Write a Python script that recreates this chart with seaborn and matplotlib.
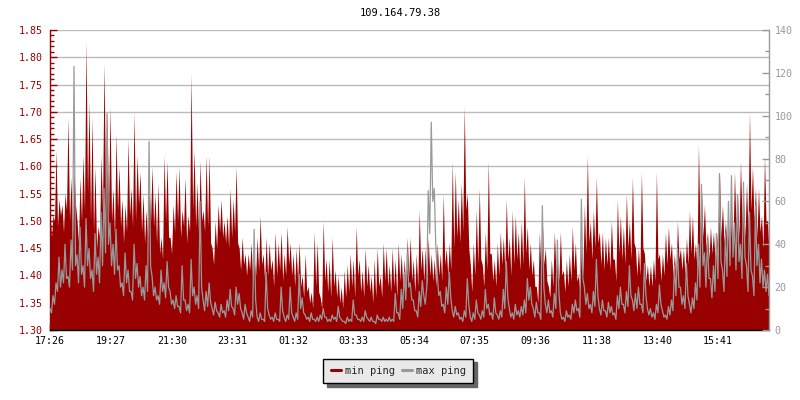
import numpy as np
import pandas as pd
import matplotlib
matplotlib.use("Agg")
import matplotlib.pyplot as plt
import matplotlib.dates as mdates
from matplotlib.lines import Line2D
from matplotlib.ticker import FormatStrFormatter, MultipleLocator
import seaborn as sns

# --- data ---
# samples alternate peak / trough, every 3 minutes starting 17:26
title = "109.164.79.38"
start_time = "2024-01-01 17:26"
step_minutes = 3
tick_labels = ["17:26", "19:27", "21:30", "23:31", "01:32", "03:33",
               "05:34", "07:35", "09:36", "11:38", "13:40", "15:41"]

min_ping_peaks = [
    1.52, 1.51, 1.63, 1.54, 1.53, 1.55, 1.69, 1.58, 1.59, 1.50, 1.58, 1.62, 1.83, 1.72, 1.69, 1.60, 1.49, 1.62, 1.79, 1.70,
    1.71, 1.56, 1.66, 1.60, 1.54, 1.53, 1.65, 1.56, 1.70, 1.62, 1.59, 1.55, 1.52, 1.57, 1.60, 1.55, 1.57, 1.47, 1.62, 1.61,
    1.47, 1.53, 1.59, 1.60, 1.52, 1.58, 1.51, 1.77, 1.63, 1.57, 1.61, 1.52, 1.62, 1.62, 1.45, 1.50, 1.53, 1.54, 1.50, 1.51,
    1.56, 1.54, 1.60, 1.45, 1.47, 1.44, 1.44, 1.46, 1.43, 1.47, 1.51, 1.44, 1.47, 1.46, 1.43, 1.48, 1.46, 1.48, 1.44, 1.49,
    1.46, 1.44, 1.45, 1.46, 1.40, 1.44, 1.38, 1.37, 1.48, 1.46, 1.36, 1.50, 1.43, 1.43, 1.47, 1.41, 1.40, 1.38, 1.41, 1.42,
    1.44, 1.43, 1.49, 1.43, 1.41, 1.45, 1.42, 1.40, 1.43, 1.45, 1.40, 1.46, 1.45, 1.42, 1.45, 1.43, 1.46, 1.44, 1.43, 1.47,
    1.47, 1.43, 1.44, 1.52, 1.45, 1.45, 1.47, 1.44, 1.43, 1.46, 1.44, 1.55, 1.45, 1.46, 1.61, 1.59, 1.54, 1.57, 1.71, 1.55,
    1.42, 1.46, 1.52, 1.56, 1.42, 1.48, 1.61, 1.44, 1.43, 1.46, 1.48, 1.47, 1.54, 1.47, 1.52, 1.51, 1.48, 1.50, 1.58, 1.49,
    1.46, 1.43, 1.38, 1.48, 1.50, 1.45, 1.38, 1.43, 1.48, 1.43, 1.48, 1.41, 1.43, 1.44, 1.49, 1.46, 1.40, 1.46, 1.53, 1.62,
    1.50, 1.52, 1.58, 1.48, 1.48, 1.47, 1.47, 1.50, 1.43, 1.54, 1.51, 1.49, 1.55, 1.50, 1.58, 1.45, 1.45, 1.59, 1.44, 1.42,
    1.42, 1.43, 1.59, 1.44, 1.44, 1.48, 1.49, 1.46, 1.44, 1.50, 1.45, 1.45, 1.47, 1.52, 1.51, 1.46, 1.64, 1.56, 1.53, 1.48,
    1.49, 1.48, 1.48, 1.59, 1.53, 1.50, 1.49, 1.52, 1.59, 1.55, 1.61, 1.54, 1.57, 1.70, 1.60, 1.56, 1.56, 1.51, 1.62, 1.50,
]

min_ping_troughs = [
    1.47, 1.50, 1.49, 1.51, 1.48, 1.52, 1.50, 1.47, 1.53, 1.46, 1.50, 1.52, 1.55, 1.50, 1.48, 1.45, 1.47, 1.52, 1.55, 1.51,
    1.50, 1.47, 1.52, 1.49, 1.46, 1.48, 1.51, 1.49, 1.50, 1.53, 1.48, 1.46, 1.47, 1.50, 1.49, 1.46, 1.44, 1.43, 1.50, 1.47,
    1.44, 1.48, 1.50, 1.47, 1.49, 1.46, 1.48, 1.52, 1.49, 1.47, 1.50, 1.48, 1.49, 1.46, 1.42, 1.45, 1.48, 1.47, 1.46, 1.45,
    1.47, 1.48, 1.46, 1.41, 1.42, 1.40, 1.41, 1.39, 1.40, 1.41, 1.42, 1.39, 1.40, 1.41, 1.38, 1.40, 1.41, 1.39, 1.40, 1.42,
    1.40, 1.38, 1.39, 1.38, 1.36, 1.37, 1.35, 1.34, 1.38, 1.37, 1.34, 1.39, 1.37, 1.36, 1.38, 1.36, 1.35, 1.34, 1.36, 1.37,
    1.38, 1.36, 1.40, 1.37, 1.36, 1.38, 1.37, 1.35, 1.36, 1.38, 1.36, 1.39, 1.38, 1.37, 1.38, 1.36, 1.39, 1.38, 1.37, 1.40,
    1.39, 1.37, 1.38, 1.41, 1.39, 1.38, 1.40, 1.39, 1.38, 1.40, 1.39, 1.42, 1.40, 1.41, 1.45, 1.47, 1.46, 1.48, 1.52, 1.45,
    1.37, 1.40, 1.42, 1.43, 1.38, 1.41, 1.44, 1.39, 1.38, 1.40, 1.42, 1.41, 1.43, 1.40, 1.42, 1.43, 1.41, 1.42, 1.44, 1.41,
    1.40, 1.38, 1.35, 1.41, 1.42, 1.39, 1.36, 1.38, 1.41, 1.39, 1.40, 1.37, 1.38, 1.39, 1.41, 1.39, 1.37, 1.40, 1.44, 1.46,
    1.43, 1.45, 1.46, 1.42, 1.41, 1.42, 1.41, 1.43, 1.39, 1.44, 1.43, 1.42, 1.45, 1.43, 1.46, 1.40, 1.40, 1.45, 1.39, 1.38,
    1.38, 1.39, 1.43, 1.39, 1.40, 1.42, 1.43, 1.40, 1.39, 1.43, 1.41, 1.40, 1.42, 1.44, 1.43, 1.41, 1.48, 1.47, 1.45, 1.43,
    1.44, 1.43, 1.44, 1.47, 1.46, 1.45, 1.44, 1.46, 1.49, 1.47, 1.50, 1.47, 1.48, 1.52, 1.50, 1.47, 1.48, 1.45, 1.50, 1.44,
]

max_ping_peaks = [
    10, 16, 22, 34, 28, 40, 25, 42, 123, 35, 48, 30, 52, 38, 28, 45, 34, 55, 66, 101,
    50, 40, 47, 30, 22, 36, 28, 18, 40, 31, 25, 20, 30, 88, 25, 20, 16, 28, 22, 32,
    18, 14, 16, 11, 30, 14, 12, 33, 20, 16, 60, 14, 18, 22, 10, 13, 8, 12, 9, 14,
    19, 10, 20, 17, 8, 12, 6, 9, 47, 6, 8, 5, 27, 7, 6, 8, 5, 20, 6, 7,
    20, 6, 8, 26, 15, 7, 6, 8, 5, 6, 7, 10, 6, 5, 7, 6, 11, 5, 4, 6,
    5, 14, 7, 5, 6, 9, 5, 6, 4, 7, 5, 6, 5, 6, 5, 17, 8, 19, 27, 36,
    22, 14, 9, 18, 23, 12, 65, 97, 66, 26, 18, 12, 20, 27, 9, 11, 8, 6, 9, 24,
    6, 8, 14, 7, 9, 19, 12, 8, 15, 7, 9, 19, 32, 10, 8, 12, 9, 11, 14, 24,
    20, 10, 13, 8, 58, 12, 14, 9, 17, 42, 8, 6, 9, 7, 12, 14, 10, 61, 20, 17,
    12, 18, 33, 10, 14, 9, 13, 11, 8, 16, 20, 12, 18, 30, 14, 17, 20, 12, 31, 10,
    10, 8, 12, 21, 9, 7, 11, 14, 30, 38, 20, 16, 31, 12, 15, 22, 40, 68, 36, 42,
    24, 30, 45, 73, 28, 45, 60, 72, 50, 63, 40, 69, 30, 55, 25, 58, 40, 33, 28, 26,
]

max_ping_troughs = [
    8, 12, 18, 20, 22, 24, 20, 28, 30, 22, 26, 20, 30, 24, 18, 26, 22, 30, 36, 40,
    30, 26, 28, 20, 16, 22, 18, 14, 24, 20, 16, 14, 18, 30, 16, 14, 12, 18, 15, 20,
    12, 10, 11, 8, 14, 9, 8, 16, 12, 10, 20, 9, 11, 13, 7, 9, 6, 8, 6, 9,
    11, 7, 12, 10, 5, 8, 4, 6, 14, 4, 5, 4, 10, 5, 4, 5, 4, 9, 4, 5,
    8, 4, 5, 10, 8, 5, 4, 5, 4, 4, 5, 6, 4, 4, 5, 4, 6, 4, 3, 4,
    4, 7, 5, 4, 4, 6, 4, 4, 3, 5, 4, 4, 4, 4, 4, 8, 5, 10, 14, 20,
    14, 9, 6, 11, 16, 20, 45, 60, 40, 16, 11, 8, 12, 15, 6, 7, 5, 4, 6, 12,
    4, 5, 8, 5, 6, 10, 7, 5, 8, 5, 6, 10, 15, 6, 5, 7, 6, 7, 8, 14,
    12, 6, 8, 5, 20, 8, 8, 6, 10, 18, 5, 4, 6, 5, 8, 9, 6, 24, 12, 10,
    8, 11, 16, 7, 9, 6, 8, 7, 5, 10, 12, 8, 11, 16, 9, 10, 12, 8, 16, 7,
    6, 5, 8, 12, 6, 5, 7, 9, 16, 20, 12, 10, 16, 8, 10, 14, 20, 30, 20, 24,
    15, 18, 24, 32, 18, 25, 30, 34, 28, 32, 24, 34, 18, 28, 16, 30, 22, 20, 18, 16,
]

RED = "#990000"
GRAY = "#999999"

# interleave peak and trough samples into one time series
min_ping = [v for pair in zip(min_ping_peaks, min_ping_troughs) for v in pair]
max_ping = [v for pair in zip(max_ping_peaks, max_ping_troughs) for v in pair]
times = pd.date_range(start_time, periods=len(min_ping), freq=f"{step_minutes}min")
df = pd.DataFrame({"time": times, "min ping": min_ping, "max ping": max_ping})

# tick positions from the label times (rolling over midnight)
tick_times = []
day = pd.Timestamp(start_time).normalize()
for lab in tick_labels:
    t = day + pd.Timedelta(lab + ":00")
    if tick_times and t < tick_times[-1]:
        day += pd.Timedelta(days=1)
        t += pd.Timedelta(days=1)
    tick_times.append(t)

sns.set_theme(style="white")
plt.rcParams["font.family"] = ["DejaVu Sans Mono"]
plt.rcParams["font.size"] = 7.2
plt.rcParams["xtick.labelsize"] = 7.2
plt.rcParams["ytick.labelsize"] = 7.2

fig = plt.figure(figsize=(8, 4), dpi=100)
ax = fig.add_axes([0.0625, 0.175, 0.89875, 0.75])

# min ping: filled area on the left axis
ax.fill_between(df["time"], 1.30, df["min ping"], color=RED, linewidth=0)
ax.set_ylim(1.30, 1.85)
ax.set_yticks(np.arange(1.30, 1.851, 0.05))
ax.yaxis.set_major_formatter(FormatStrFormatter("%.2f"))
ax.yaxis.set_minor_locator(MultipleLocator(0.01))
ax.grid(axis="y", color="#bbbbbb", linewidth=1)
ax.grid(axis="x", visible=False)
ax.set_axisbelow(True)
ax.tick_params(axis="y", which="major", direction="in", length=5, width=1,
               color=RED, labelcolor=RED, pad=5, left=True, labelsize=7.2)
ax.tick_params(axis="y", which="minor", direction="in", length=3, width=1,
               color=RED, left=True)
ax.tick_params(axis="x", direction="in", length=5, width=1, color="black",
               labelcolor="black", pad=4, bottom=True, labelsize=7.2)
for side in ["top", "right"]:
    ax.spines[side].set_visible(False)
ax.spines["left"].set_color(RED)
ax.spines["bottom"].set_color("black")
ax.spines["left"].set_linewidth(1)
ax.spines["bottom"].set_linewidth(1)

# max ping: line on the right axis
ax2 = ax.twinx()
sns.lineplot(data=df, x="time", y="max ping", ax=ax2, color=GRAY, linewidth=0.9)
ax2.set_ylim(0, 140)
ax2.set_yticks(range(0, 141, 20))
ax2.yaxis.set_minor_locator(MultipleLocator(10))
ax2.grid(False)
ax2.tick_params(axis="y", which="major", direction="in", length=5, width=1,
                color=GRAY, labelcolor=GRAY, pad=4, right=True, labelsize=7.2)
ax2.tick_params(axis="y", which="minor", direction="in", length=3, width=1,
                color=GRAY, right=True)
for side in ["top", "left", "bottom"]:
    ax2.spines[side].set_visible(False)
ax2.spines["right"].set_color(GRAY)
ax2.spines["right"].set_linewidth(1)
ax2.set_xlabel("")
ax2.set_ylabel("")

ax.set_xlim(times[0], times[-1])
ax.set_xticks(mdates.date2num(tick_times))
ax.set_xticklabels(tick_labels)
ax.set_xlabel("")
ax.set_ylabel("")

fig.text(0.5, 1 - 13 / 400, title, ha="center", va="center", fontsize=7.5, color="black")

handles = [Line2D([0], [0], color=RED, linewidth=2.2),
           Line2D([0], [0], color=GRAY, linewidth=2.2)]
leg = fig.legend(handles, ["min ping", "max ping"], loc="center",
                 bbox_to_anchor=(0.498, 0.0725), ncol=2, frameon=True,
                 fancybox=False, edgecolor="black", facecolor="#e9e9e9",
                 framealpha=1, fontsize=7.5, handlelength=1.0,
                 handletextpad=0.4, columnspacing=0.6, borderpad=0.7,
                 shadow={"ox": 2.5, "oy": -2.5, "color": "#666666", "alpha": 1})
leg.get_frame().set_linewidth(1)

fig.savefig("out.png", dpi=100)
